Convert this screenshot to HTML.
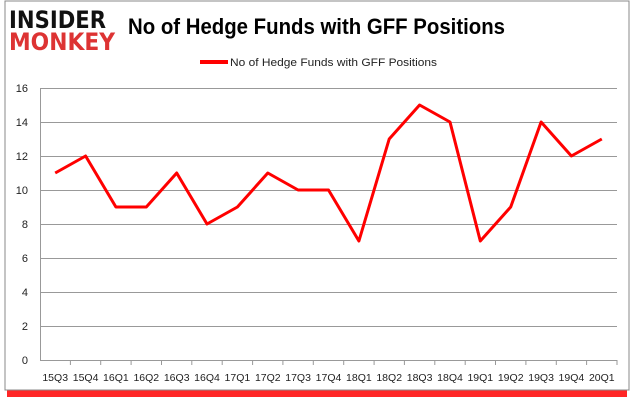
<!DOCTYPE html>
<html><head><style>
body{margin:0;background:#fff}
</style></head><body>
<svg width="635" height="405" xmlns="http://www.w3.org/2000/svg" style="font-family:'Liberation Sans',sans-serif">
<rect x="0" y="0" width="635" height="405" fill="#fff"/>
<rect x="7" y="390" width="620" height="7" fill="#f00" opacity="0.85"/>
<rect x="5" y="1" width="624" height="389" fill="#fff" stroke="#888" stroke-width="1"/>
<text x="9" y="28" font-size="24" font-weight="bold" fill="#111" font-family="'DejaVu Sans',sans-serif" textLength="97" lengthAdjust="spacingAndGlyphs">INSIDER</text>
<text x="9" y="50" font-size="24" font-weight="bold" fill="#d33" font-family="'DejaVu Sans',sans-serif" textLength="106" lengthAdjust="spacingAndGlyphs">MONKEY</text>
<text x="128" y="34" font-size="22" font-weight="bold" fill="#000" textLength="377" lengthAdjust="spacingAndGlyphs">No of Hedge Funds with GFF Positions</text>
<line x1="200" y1="62" x2="228" y2="62" stroke="#f00" stroke-width="4"/>
<text x="230" y="66" font-size="11" fill="#222" textLength="207" lengthAdjust="spacingAndGlyphs">No of Hedge Funds with GFF Positions</text>
<g stroke="#999" stroke-width="1">
<line x1="40" y1="88.5" x2="617" y2="88.5"/>
<line x1="40" y1="122.5" x2="617" y2="122.5"/>
<line x1="40" y1="156.5" x2="617" y2="156.5"/>
<line x1="40" y1="190.5" x2="617" y2="190.5"/>
<line x1="40" y1="224.5" x2="617" y2="224.5"/>
<line x1="40" y1="258.5" x2="617" y2="258.5"/>
<line x1="40" y1="292.5" x2="617" y2="292.5"/>
<line x1="40" y1="326.5" x2="617" y2="326.5"/>
<line x1="40" y1="360.5" x2="617" y2="360.5"/>
<line x1="40.5" y1="88" x2="40.5" y2="360"/>
<line x1="70.4" y1="360" x2="70.4" y2="365"/><line x1="100.7" y1="360" x2="100.7" y2="365"/>
<line x1="131.1" y1="360" x2="131.1" y2="365"/><line x1="161.5" y1="360" x2="161.5" y2="365"/>
<line x1="191.8" y1="360" x2="191.8" y2="365"/><line x1="222.2" y1="360" x2="222.2" y2="365"/>
<line x1="252.6" y1="360" x2="252.6" y2="365"/><line x1="282.9" y1="360" x2="282.9" y2="365"/>
<line x1="313.3" y1="360" x2="313.3" y2="365"/><line x1="343.7" y1="360" x2="343.7" y2="365"/>
<line x1="374.1" y1="360" x2="374.1" y2="365"/><line x1="404.4" y1="360" x2="404.4" y2="365"/>
<line x1="434.8" y1="360" x2="434.8" y2="365"/><line x1="465.2" y1="360" x2="465.2" y2="365"/>
<line x1="495.5" y1="360" x2="495.5" y2="365"/><line x1="525.9" y1="360" x2="525.9" y2="365"/>
<line x1="556.3" y1="360" x2="556.3" y2="365"/><line x1="586.6" y1="360" x2="586.6" y2="365"/>
<line x1="617" y1="360" x2="617" y2="365"/>
</g>
<g font-size="11" fill="#222" text-anchor="end">
<text x="28" y="92">16</text><text x="28" y="126">14</text><text x="28" y="160">12</text><text x="28" y="194">10</text>
<text x="28" y="228">8</text><text x="28" y="262">6</text><text x="28" y="296">4</text><text x="28" y="330">2</text><text x="28" y="364">0</text>
</g>
<g font-size="10.5" fill="#222" text-anchor="middle">
<text x="55.2" y="381">15Q3</text><text x="85.6" y="381">15Q4</text><text x="115.9" y="381">16Q1</text>
<text x="146.3" y="381">16Q2</text><text x="176.7" y="381">16Q3</text><text x="207.0" y="381">16Q4</text>
<text x="237.4" y="381">17Q1</text><text x="267.8" y="381">17Q2</text><text x="298.1" y="381">17Q3</text>
<text x="328.5" y="381">17Q4</text><text x="358.9" y="381">18Q1</text><text x="389.2" y="381">18Q2</text>
<text x="419.6" y="381">18Q3</text><text x="450.0" y="381">18Q4</text><text x="480.3" y="381">19Q1</text>
<text x="510.7" y="381">19Q2</text><text x="541.1" y="381">19Q3</text><text x="571.4" y="381">19Q4</text>
<text x="601.8" y="381">20Q1</text>
</g>
<polyline fill="none" stroke="#f00" stroke-width="3" stroke-linejoin="round" points="55.2,173 85.6,156 115.9,207 146.3,207 176.7,173 207.0,224 237.4,207 267.8,173 298.1,190 328.5,190 358.9,241 389.2,139 419.6,105 450.0,122 480.3,241 510.7,207 541.1,122 571.4,156 601.8,139"/>
</svg>
</body></html>
